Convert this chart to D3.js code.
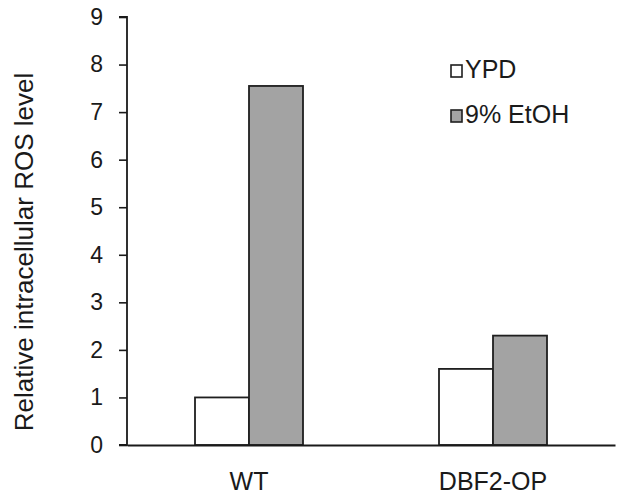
<!DOCTYPE html>
<html>
<head>
<meta charset="utf-8">
<script src="https://cdn.jsdelivr.net/npm/d3@7"></script>
<style>
  html, body { margin: 0; padding: 0; background: #fff; }
  svg { display: block; }
  text { font-family: "Liberation Sans", Arial, sans-serif; fill: #1a1a1a; }
</style>
</head>
<body>
<svg id="chart" width="617" height="496"></svg>
<script>
// Relative intracellular ROS level per strain and condition
const strains = ["WT", "DBF2-OP"];
const conditions = ["YPD", "9% EtOH"];
const ypdValues = [1.0, 1.6];
const etohValues = [7.55, 2.3];
const yTicks = [0, 1, 2, 3, 4, 5, 6, 7, 8, 9];
const yLabel = "Relative intracellular ROS level";

const fills = { "YPD": "#ffffff", "9% EtOH": "#a3a3a3" };
const seriesValues = { "YPD": ypdValues, "9% EtOH": etohValues };

const svg = d3.select("#chart");
const plotLeft = 127, plotRight = 615, plotTop = 17, plotBottom = 445;

const x = d3.scaleBand().domain(strains).range([plotLeft, plotRight]).paddingInner(0).paddingOuter(0);
const barW = 54;
const xSub = d3.scaleBand().domain(conditions).range([-barW, barW]).padding(0);
const y = d3.scaleLinear().domain([0, 9]).range([plotBottom, plotTop]);

// bars
strains.forEach((s, i) => {
  const cx = x(s) + x.bandwidth() / 2;
  conditions.forEach(c => {
    const v = seriesValues[c][i];
    svg.append("rect")
      .attr("x", cx + xSub(c))
      .attr("y", y(v))
      .attr("width", xSub.bandwidth())
      .attr("height", y(0) - y(v))
      .attr("fill", fills[c])
      .attr("stroke", "#1f1f1f")
      .attr("stroke-width", 1.8);
  });
});

// y axis
const yAxis = d3.axisLeft(y).tickValues(yTicks).tickSize(8).tickPadding(16).tickFormat(d3.format("d"));
const gy = svg.append("g").attr("transform", `translate(${plotLeft},0)`).call(yAxis);
gy.select(".domain").attr("stroke", "#1a1a1a").attr("stroke-width", 1.8).attr("d", `M-8,${plotTop}H0V${plotBottom}H-8`);
gy.selectAll(".tick line").attr("stroke", "#1a1a1a").attr("stroke-width", 1.6);
gy.selectAll(".tick text").style("font-size", "23px").attr("fill", "#1a1a1a")
  .style("font-family", "'Liberation Sans', Arial, sans-serif");

// x axis baseline and category labels
const xAxis = d3.axisBottom(x).tickSize(0).tickPadding(27);
const gx = svg.append("g").attr("transform", `translate(0,${plotBottom})`).call(xAxis);
gx.select(".domain").attr("stroke", "#1a1a1a").attr("stroke-width", 1.8);
gx.selectAll(".tick text").style("font-size", "25px").attr("fill", "#1a1a1a")
  .style("font-family", "'Liberation Sans', Arial, sans-serif");

// y axis title
svg.append("text")
  .attr("transform", `translate(33,252) rotate(-90)`)
  .attr("text-anchor", "middle")
  .style("font-size", "26px")
  .text(yLabel);

// legend
const legend = svg.append("g").attr("transform", "translate(451,64)");
conditions.forEach((c, i) => {
  const g = legend.append("g").attr("transform", `translate(0,${i * 45})`);
  g.append("rect").attr("x", 0).attr("y", 1).attr("width", 11).attr("height", 12)
    .attr("fill", fills[c]).attr("stroke", "#1f1f1f").attr("stroke-width", 1.6);
  g.append("text").attr("x", 14).attr("y", 14).style("font-size", "25px").text(c);
});
</script>
</body>
</html>
